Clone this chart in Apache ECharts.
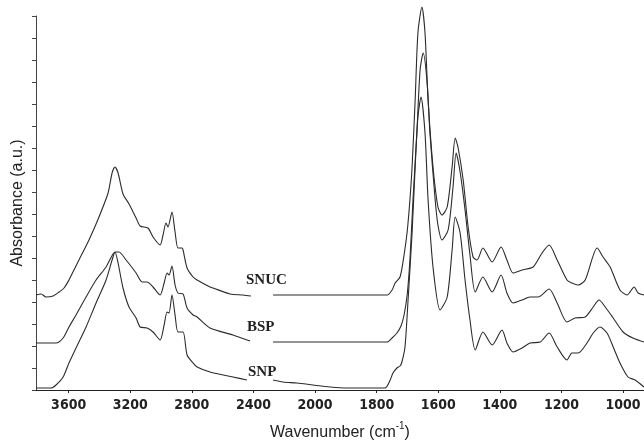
<!DOCTYPE html>
<html>
<head>
<meta charset="utf-8">
<script src="https://cdn.jsdelivr.net/npm/echarts@6/dist/echarts.min.js"></script>
<style>
html,body{margin:0;padding:0;background:#fff;}
#ftirChart{width:644px;height:446px;}
</style>
</head>
<body>
<div id="ftirChart"></div>
<script>
// x tick labels (the axis is compressed above 2000 cm-1)
var xTicks = [3600, 3200, 2800, 2400, 2000, 1800, 1600, 1400, 1200, 1000];

// [wavenumber, absorbance], null = break in the trace
var snucData = [
	[3812,0.95],[3779,0.96],[3747,0.93],[3701,0.94],[3662,0.98],[3630,1.02],[3598,1.10],[3572,1.18],
	[3533,1.30],[3468,1.50],[3403,1.73],[3344,1.97],[3318,2.17],[3299,2.23],[3279,2.17],[3247,1.96],
	[3208,1.86],[3162,1.72],[3136,1.64],[3085,1.62],[3052,1.53],[3006,1.45],[2987,1.55],[2968,1.67],
	[2955,1.63],[2929,1.78],[2909,1.58],[2890,1.42],[2864,1.42],[2857,1.40],[2831,1.22],[2792,1.13],
	[2766,1.10],[2682,1.03],[2662,1.02],[2552,0.96],[2468,0.95],[2416,0.94],[2350,null],
	[2273,0.95],[1951,0.95],[1766,0.95],[1750,1.00],[1740,1.07],[1724,1.13],[1711,1.35],[1701,1.58],
	[1692,1.90],[1685,2.23],[1675,2.90],[1666,3.57],[1653,3.83],[1643,3.57],[1633,2.90],[1617,2.23],
	[1601,1.83],[1588,1.75],[1571,1.83],[1555,2.23],[1545,2.52],[1536,2.43],[1519,2.10],[1503,1.63],
	[1487,1.33],[1474,1.30],[1455,1.42],[1425,1.28],[1396,1.43],[1377,1.30],[1357,1.17],[1328,1.20],
	[1292,1.23],[1263,1.37],[1240,1.45],[1214,1.30],[1182,1.10],[1166,1.07],[1146,1.05],[1123,1.10],
	[1084,1.42],[1065,1.33],[1042,1.23],[1010,1.00],[987,0.95],[964,1.03],[951,0.97],[932,0.95]
];
var bspData = [
	[3812,0.47],[3682,0.47],[3636,0.52],[3598,0.63],[3552,0.75],[3487,0.93],[3422,1.10],[3357,1.23],
	[3312,1.36],[3292,1.38],[3273,1.38],[3227,1.30],[3162,1.17],[3123,1.08],[3091,1.08],[3052,1.03],
	[3006,0.95],[2980,1.07],[2961,1.17],[2948,1.15],[2929,1.24],[2909,1.05],[2890,0.97],[2857,0.96],
	[2831,0.82],[2792,0.75],[2766,0.73],[2682,0.62],[2533,0.55],[2422,0.49],[2350,null],
	[2273,0.48],[1951,0.48],[1766,0.48],[1750,0.52],[1734,0.57],[1721,0.64],[1711,0.75],[1701,0.95],
	[1692,1.30],[1682,1.90],[1669,2.60],[1659,3.20],[1649,3.37],[1636,3.07],[1627,2.57],[1610,1.90],
	[1601,1.65],[1588,1.50],[1568,1.60],[1552,2.03],[1542,2.37],[1529,2.18],[1513,1.80],[1497,1.35],
	[1480,0.98],[1455,1.13],[1425,0.98],[1396,1.15],[1377,0.97],[1357,0.87],[1328,0.90],[1302,0.93],
	[1276,0.93],[1240,1.01],[1214,0.87],[1182,0.68],[1156,0.72],[1123,0.73],[1097,0.83],[1078,0.90],
	[1058,0.83],[1032,0.72],[1000,0.58],[968,0.52],[932,0.48]
];
var snpData = [
	[3812,0.02],[3714,0.02],[3682,0.05],[3636,0.13],[3598,0.27],[3552,0.42],[3487,0.63],[3422,0.87],
	[3357,1.10],[3312,1.33],[3299,1.38],[3279,1.27],[3247,1.02],[3208,0.83],[3162,0.72],[3136,0.63],
	[3091,0.62],[3052,0.58],[3006,0.50],[2980,0.65],[2961,0.78],[2948,0.77],[2929,0.95],[2909,0.75],
	[2890,0.58],[2857,0.58],[2831,0.35],[2792,0.27],[2766,0.23],[2682,0.18],[2533,0.13],[2442,0.10],[2350,null],
	[2273,0.10],[2208,0.08],[2117,0.07],[2013,0.05],[1951,0.03],[1896,0.02],[1773,0.02],[1756,0.10],
	[1747,0.17],[1734,0.22],[1724,0.24],[1718,0.28],[1708,0.43],[1698,0.90],[1685,1.57],[1675,2.23],
	[1666,2.73],[1656,2.93],[1643,2.57],[1633,1.90],[1617,1.23],[1594,0.80],[1571,0.93],[1555,1.40],
	[1545,1.73],[1529,1.57],[1513,1.10],[1497,0.70],[1480,0.40],[1455,0.58],[1425,0.45],[1393,0.60],
	[1377,0.47],[1357,0.38],[1328,0.42],[1302,0.47],[1269,0.48],[1240,0.57],[1214,0.43],[1182,0.30],
	[1166,0.37],[1146,0.37],[1117,0.47],[1097,0.57],[1075,0.63],[1052,0.57],[1032,0.43],[1010,0.27],
	[984,0.13],[961,0.10],[932,0.03]
];

// axis position: above 2000 the scale is halved
function toAxis(w){
	return w > 2000 ? 2000 + (w - 2000) / 2 : w;
}
function fromAxis(v){
	return v > 2000 ? 2000 + (v - 2000) * 2 : v;
}
function build(data){
	var out = [];
	for(var i=0;i<data.length;i++){
		out.push([toAxis(data[i][0]), data[i][1] === null ? '-' : data[i][1]]);
	}
	return out;
}

var tickPos = xTicks.map(toAxis);
var lineColor = '#2b2b2b';

function makeSeries(name, data){
	return {
		name: name,
		type: 'line',
		data: build(data),
		symbol: 'none',
		smooth: 0.25,
		clip: false,
		connectNulls: false,
		lineStyle: {color: lineColor, width: 1.1},
		silent: true
	};
}

var chart = echarts.init(document.getElementById('ftirChart'));
var option = {
	backgroundColor: '#fff',
	animation: false,
	grid: {left: 36, right: 0, top: 16, bottom: 56, containLabel: false, outerBoundsMode: 'none'},
	xAxis: {
		type: 'value',
		inverse: true,
		min: toAxis(932),
		max: toAxis(3812),
		splitLine: {show: false},
		axisLine: {lineStyle: {color: '#222', width: 1}},
		axisTick: {show: true, customValues: tickPos, length: 3, inside: false, lineStyle: {color: '#222'}},
		axisLabel: {
			customValues: tickPos,
			formatter: function(v){ return fromAxis(v); },
			fontFamily: 'DejaVu Sans Condensed',
			fontWeight: 'bold',
			fontSize: 14,
			color: '#222',
			margin: 8
		},
		name: '{a|Wavenumber (cm}{s|-1}{a|)}',
		nameLocation: 'middle',
		nameGap: 31,
		nameTextStyle: {
			rich: {
				a: {fontFamily: 'Liberation Sans', fontSize: 16, color: '#222', lineHeight: 20, verticalAlign: 'bottom'},
				s: {fontFamily: 'Liberation Sans', fontSize: 10, color: '#222', lineHeight: 20, verticalAlign: 'top'}
			}
		}
	},
	yAxis: {
		type: 'value',
		min: 0,
		max: 3.74,
		interval: 0.22,
		splitLine: {show: false},
		axisLine: {show: true, lineStyle: {color: '#444', width: 1}},
		axisTick: {show: true, length: 4, lineStyle: {color: '#444'}},
		axisLabel: {show: false},
		name: 'Absorbance (a.u.)',
		nameLocation: 'middle',
		nameGap: 10,
		nameRotate: 90,
		nameTextStyle: {fontFamily: 'Liberation Sans', fontSize: 16, color: '#222'}
	},
	series: [
		makeSeries('SNUC', snucData),
		makeSeries('BSP', bspData),
		makeSeries('SNP', snpData)
	],
	graphic: [
		{type: 'text', left: 246, top: 273, style: {text: 'SNUC', font: 'bold 15px "Liberation Serif"', fill: '#222'}},
		{type: 'text', left: 247, top: 320, style: {text: 'BSP', font: 'bold 15px "Liberation Serif"', fill: '#222'}},
		{type: 'text', left: 248, top: 365, style: {text: 'SNP', font: 'bold 15px "Liberation Serif"', fill: '#222'}}
	]
};
chart.setOption(option);
</script>
</body>
</html>
